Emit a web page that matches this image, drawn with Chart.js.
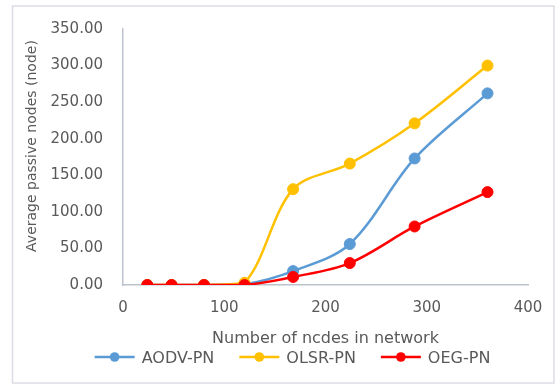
<!DOCTYPE html>
<html>
<head>
<meta charset="utf-8">
<script src="https://cdn.jsdelivr.net/npm/chart.js@4/dist/chart.umd.min.js"></script>
<style>
  html, body { margin: 0; padding: 0; background: #ffffff; }
  #wrap { width: 560px; height: 385px; position: relative; }
</style>
</head>
<body>
<div id="wrap"><canvas id="c" width="560" height="385"></canvas></div>
<script>
// Network sizes (x) and average passive nodes per protocol (y)
const nodeCounts = [24, 48, 80, 120, 168, 224, 288, 360];
const aodvPN = [0, 0, 0, 1, 19, 56, 173, 262];
const olsrPN = [0, 0, 0, 3, 131, 166, 221, 300];
const oegPN  = [0, 0, 0, 0, 11, 30, 80, 127];
const seriesNames = ['AODV-PN', 'OLSR-PN', 'OEG-PN'];
const seriesColors = ['#5B9BD5', '#FFC000', '#FF0000'];
const xTicks = [0, 100, 200, 300, 400];
const yTicks = [0, 50, 100, 150, 200, 250, 300, 350];
const xTitle = 'Number of ncdes in network';
const yTitle = 'Average passive nodes (node)';

const FONT = '"DejaVu Sans", sans-serif';
const TEXT = '#595959';

function toPoints(values) {
  return nodeCounts.map((x, i) => ({ x: x, y: values[i] }));
}

function makeSeries(i, values, order) {
  return {
    label: seriesNames[i],
    data: toPoints(values),
    borderColor: seriesColors[i],
    backgroundColor: seriesColors[i],
    pointBackgroundColor: seriesColors[i],
    pointBorderColor: seriesColors[i],
    pointBorderWidth: 1,
    pointRadius: 5.5,
    borderWidth: 2.5,
    tension: 0.33,
    showLine: true,
    fill: false,
    order: order
  };
}

// Frame, axis titles and legend drawn around the plot
const decorations = {
  id: 'decorations',
  beforeDraw(chart) {
    const ctx = chart.ctx;
    ctx.save();
    ctx.fillStyle = '#ffffff';
    ctx.fillRect(0, 0, chart.width, chart.height);
    ctx.strokeStyle = '#dcdce4';
    ctx.lineWidth = 1.5;
    ctx.strokeRect(12.5, 6, 541.5, 377);
    ctx.restore();
  },
  afterDraw(chart) {
    const ctx = chart.ctx;
    const area = chart.chartArea;
    ctx.save();
    ctx.fillStyle = TEXT;

    // x axis title
    ctx.font = '16px ' + FONT;
    ctx.textAlign = 'center';
    ctx.textBaseline = 'alphabetic';
    ctx.fillText(xTitle, (area.left + area.right) / 2, 343);

    // y axis title
    ctx.save();
    ctx.translate(36, 146);
    ctx.rotate(-Math.PI / 2);
    ctx.font = '14px ' + FONT;
    ctx.fillText(yTitle, 0, 0);
    ctx.restore();

    // legend
    ctx.font = '16px ' + FONT;
    ctx.textAlign = 'left';
    const lineLen = 40, gap = 7, itemGap = 25, yMid = 357;
    const widths = seriesNames.map(n => ctx.measureText(n).width);
    let total = 0;
    widths.forEach((w, i) => { total += lineLen + gap + w + (i < widths.length - 1 ? itemGap : 0); });
    let x = 292.5 - total / 2;
    seriesNames.forEach((name, i) => {
      ctx.strokeStyle = seriesColors[i];
      ctx.lineWidth = 2.5;
      ctx.beginPath();
      ctx.moveTo(x, yMid);
      ctx.lineTo(x + lineLen, yMid);
      ctx.stroke();
      ctx.fillStyle = seriesColors[i];
      ctx.beginPath();
      ctx.arc(x + lineLen / 2, yMid, 4.8, 0, Math.PI * 2);
      ctx.fill();
      ctx.fillStyle = TEXT;
      ctx.fillText(name, x + lineLen + gap, 362.5);
      x += lineLen + gap + widths[i] + itemGap;
    });
    ctx.restore();
  }
};

new Chart(document.getElementById('c'), {
  type: 'scatter',
  data: {
    datasets: [
      makeSeries(0, aodvPN, 3),
      makeSeries(1, olsrPN, 2),
      makeSeries(2, oegPN, 1)
    ]
  },
  options: {
    responsive: false,
    animation: false,
    layout: { padding: { left: 0, top: 29, right: 32, bottom: 0 } },
    plugins: {
      legend: { display: false },
      tooltip: { enabled: false },
      title: { display: false }
    },
    scales: {
      x: {
        type: 'linear',
        min: 0,
        max: 400,
        afterBuildTicks: s => { s.ticks = xTicks.map(v => ({ value: v })); },
        afterFit: s => { s.height = 100; },
        grid: { display: false, drawTicks: false },
        border: { display: true, color: '#bcc3cd', width: 1.5 },
        ticks: {
          color: TEXT,
          font: { family: FONT, size: 15 },
          padding: 14,
          maxRotation: 0,
          callback: v => String(v)
        }
      },
      y: {
        type: 'linear',
        min: 0,
        max: 350,
        afterBuildTicks: s => { s.ticks = yTicks.map(v => ({ value: v })); },
        afterFit: s => { s.width = 123; },
        grid: { display: false, drawTicks: false },
        border: { display: true, color: '#bcc3cd', width: 1.5 },
        ticks: {
          color: TEXT,
          font: { family: FONT, size: 15 },
          padding: 20,
          callback: v => Number(v).toFixed(2)
        }
      }
    }
  },
  plugins: [decorations]
});
</script>
</body>
</html>
